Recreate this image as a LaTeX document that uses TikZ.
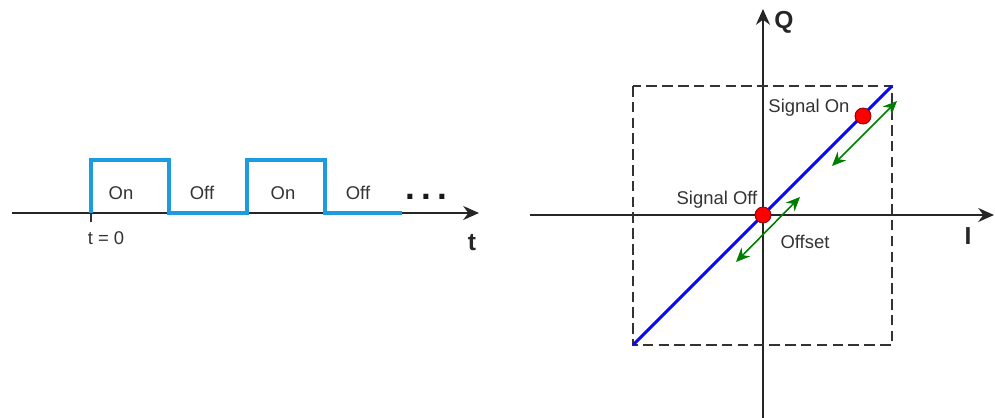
\documentclass[tikz,border=0pt]{standalone}
\usepackage{fontspec}
\setmainfont{Liberation Sans}
\usetikzlibrary{arrows.meta,positioning,calc}

\definecolor{pulseblue}{RGB}{28,155,222}
\definecolor{lineblue}{RGB}{10,10,240}
\definecolor{offsetgreen}{RGB}{0,125,0}

\tikzset{
  axis/.style={line width=1.1pt, black!85, -{Stealth[length=9pt,width=8pt]}},
  pulse/.style={line width=2pt, pulseblue},
  lbl/.style={font=\fontsize{10.5}{12}\selectfont, text=black!80, inner sep=0pt},
  axislbl/.style={font=\fontsize{14}{16}\selectfont\bfseries, text=black!85, inner sep=0pt},
  dashbox/.style={line width=1.1pt, black!80, dash pattern=on 6pt off 3pt},
  reddot/.style={circle, fill=red, draw=red!55!black, line width=0.5pt, inner sep=0pt, minimum size=0.32cm},
  offsetarrow/.style={line width=0.9pt, offsetgreen, {Stealth[length=8pt,width=7pt]}-{Stealth[length=8pt,width=7pt]}}
}

\begin{document}
\begin{tikzpicture}[x=0.02cm, y=-0.02cm]
  \useasboundingbox (0,0) rectangle (995,418);

  % On/Off keying over time
  \coordinate (tstart) at (12,213);
  \coordinate (tend) at (479,213);
  \draw[axis] (tstart) -- (tend);
  \coordinate (tzero) at (91,213);
  \draw[line width=0.7pt, black!80] (tzero) -- ++(0,9);
  \draw[pulse] (tzero) -- (91,160) -- (169,160) -- (169,213) -- (247,213)
    -- (247,160) -- (325,160) -- (325,213) -- (402,213);

  \node[lbl] (on1) at (121,193) {On};
  \node[lbl] (off1) at (202,193) {Off};
  \node[lbl] (on2) at (283,193) {On};
  \node[lbl] (off2) at (358,193) {Off};
  \node[font=\fontsize{20}{20}\selectfont\bfseries, text=black!90, inner sep=0pt] (dots) at (426,197)
    {.\hspace{3.5pt}.\hspace{3.5pt}.};
  \node[lbl] (tzerolbl) at (106,238) {t = 0};
  \node[axislbl] (tlbl) at (472,243) {t};

  % IQ constellation
  \coordinate (iorig) at (763,215);
  \coordinate (ileft) at (530,215);
  \coordinate (iright) at (994,215);
  \coordinate (qbottom) at (763,418);
  \coordinate (qtop) at (763,9);
  \draw[axis] (ileft) -- (iright);
  \draw[axis] (qbottom) -- (qtop);
  \node[axislbl] (qlbl) at (784,22) {Q};
  \node[axislbl] (ilbl) at (968,236) {I};

  \draw[dashbox] (633,86) rectangle (892,345);
  \coordinate (lowcorner) at (633,345);
  \coordinate (highcorner) at (892,86);
  \draw[line width=1.8pt, lineblue] (lowcorner) -- (highcorner);

  \node[reddot] (sigoff) at (iorig) {};
  \node[reddot] (sigon) at (863,116) {};
  \node[lbl] (sigonlbl) at (809,108) {Signal On};
  \node[lbl] (sigofflbl) at (717,200) {Signal Off};
  \node[lbl] (offsetlbl) at (805,242) {Offset};

  \coordinate (offa1) at (736,262);
  \coordinate (offa2) at (800,197);
  \coordinate (offb1) at (832,166);
  \coordinate (offb2) at (897,101);
  \draw[offsetarrow] (offa1) -- (offa2);
  \draw[offsetarrow] (offb1) -- (offb2);
\end{tikzpicture}
\end{document}
